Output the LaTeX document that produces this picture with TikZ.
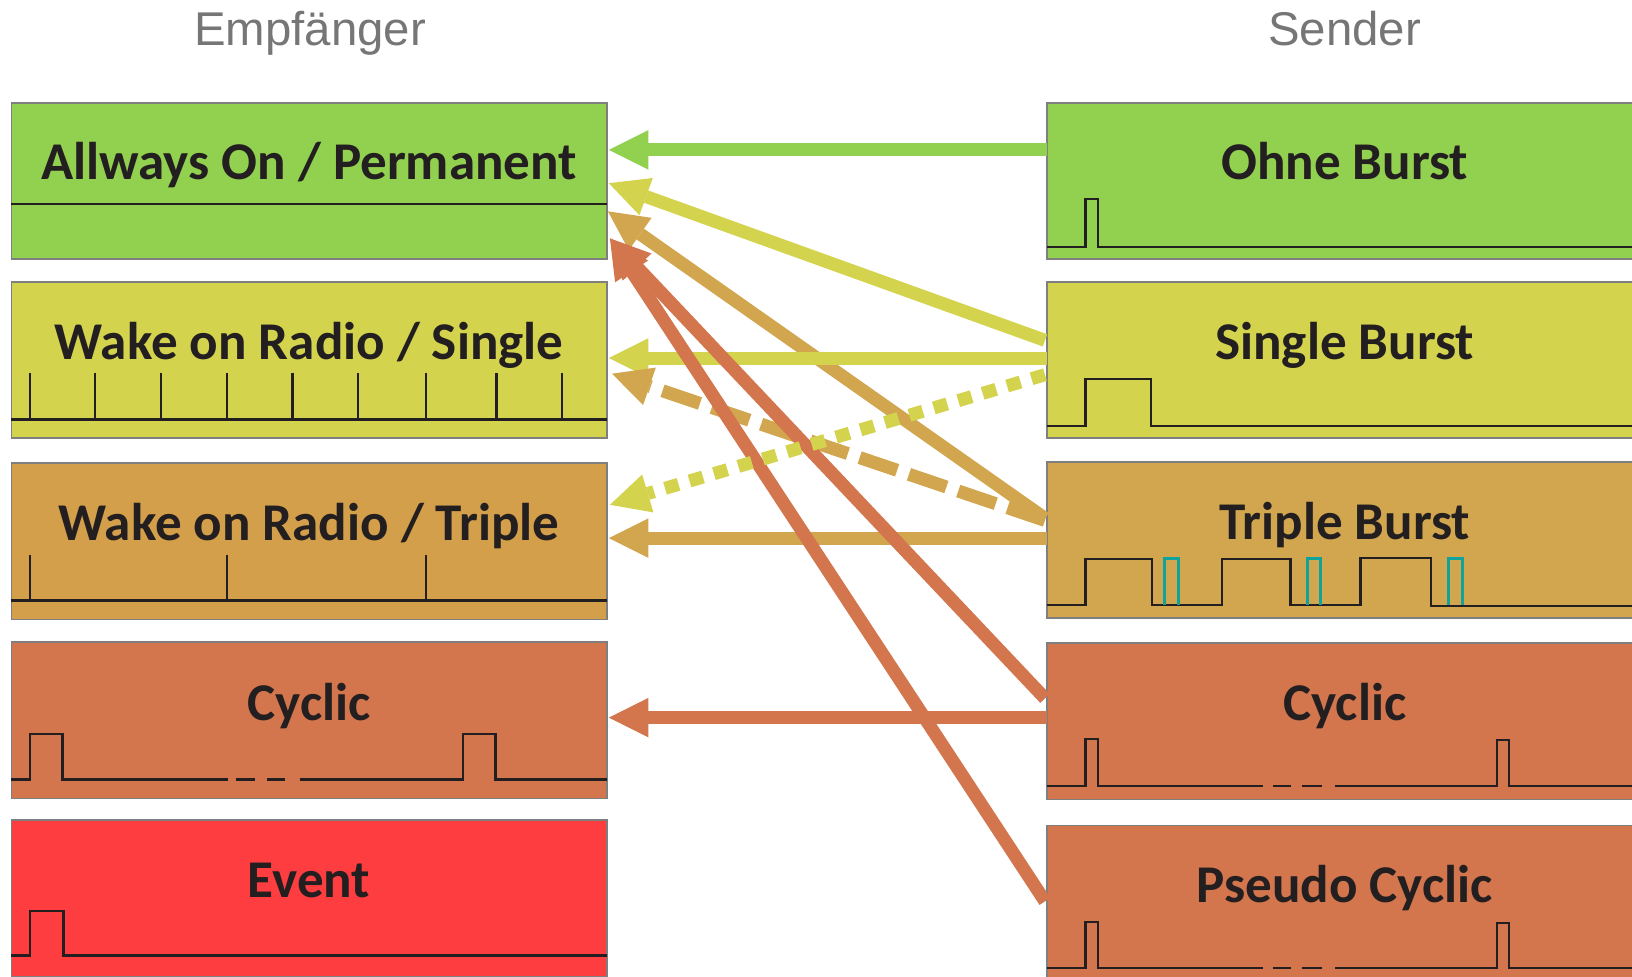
\documentclass[tikz,border=0pt]{standalone}
\usepackage{fontspec}
\setmainfont{Liberation Sans}
\newfontfamily\boxfont{Carlito}
\usetikzlibrary{arrows.meta}
\definecolor{cgreen}{HTML}{92D050}
\definecolor{cyellow}{HTML}{D3D34E}
\definecolor{ctan}{HTML}{D49F4A}
\definecolor{ctanR}{HTML}{D2A64F}
\definecolor{corange}{HTML}{D3764E}
\definecolor{cred}{HTML}{FE3D40}
\definecolor{cteal}{HTML}{0FA39B}
\definecolor{cink}{HTML}{231F20}
\definecolor{cborder}{HTML}{7F7F7F}
\definecolor{chead}{HTML}{767676}
\tikzset{
  box/.style={rectangle, draw=cborder, line width=1.5pt, minimum width=572pt, minimum height=150pt, inner sep=0pt, outer sep=0pt},
  ttl/.style={anchor=base, inner sep=0pt, text=cink, font=\boxfont\bfseries\fontsize{51}{60}\selectfont},
  hdr/.style={anchor=base, inner sep=0pt, text=chead, font=\fontsize{45.5}{54}\selectfont},
  sig/.style={draw=cink, line width=2.2pt, line cap=butt, line join=miter},
  tsig/.style={draw=cteal, line width=2.8pt, line cap=butt, line join=miter},
  arr/.style={line width=12.5pt, line cap=butt, -{Triangle[length=38pt,width=38pt,line width=0pt]}},
  dotline/.style={dash pattern=on 13.5pt off 11pt},
  dashline/.style={dash pattern=on 38pt off 12pt}
}
\begin{document}
\begin{tikzpicture}[x=1pt,y=-1pt]
\useasboundingbox (0,0) rectangle (1568,938);
% headers
\node[hdr] (hL) at (298,44) {Empfänger};
\node[hdr] (hR) at (1292,44) {Sender};
% left boxes
\node[box, fill=cgreen]  (L1) at (297,174) {};
\node[box, fill=cyellow] (L2) at (297,346) {};
\node[box, fill=ctan]    (L3) at (297,520) {};
\node[box, fill=corange] (L4) at (297,692) {};
\node[box, fill=cred]    (L5) at (297,863) {};
% right boxes
\node[box, fill=cgreen]  (R1) at (1292,174) {};
\node[box, fill=cyellow] (R2) at (1292,346) {};
\node[box, fill=ctanR]   (R3) at (1292,519) {};
\node[box, fill=corange] (R4) at (1292,693) {};
\node[box, fill=corange] (R5) at (1292,868) {};
% titles
\node[ttl] (tL1) at (297,172) {Allways On / Permanent};
\node[ttl] (tL2) at (297,345) {Wake on Radio / Single};
\node[ttl] (tL3) at (297,519) {Wake on Radio / Triple};
\node[ttl] (tL4) at (297,692) {Cyclic};
\node[ttl] (tL5) at (297,862) {Event};
\node[ttl] (tR1) at (1292,172) {Ohne Burst};
\node[ttl] (tR2) at (1292,345) {Single Burst};
\node[ttl] (tR3) at (1292,518) {Triple Burst};
\node[ttl] (tR4) at (1292,692) {Cyclic};
\node[ttl] (tR5) at (1292,867) {Pseudo Cyclic};
% left signals
\draw[sig] (11,196) -- (583,196);
\draw[sig] (11,403) -- (583,403);
\foreach \x in {29,91,155,218,281,344,409,477,540} \draw[sig] (\x,358) -- (\x,403);
\draw[sig] (11,577) -- (583,577);
\foreach \x in {29,218,409} \draw[sig] (\x,533) -- (\x,577);
\draw[sig] (11,749) -- (29,749) -- (29,705) -- (60,705) -- (60,749) -- (219,749);
\draw[sig] (227,749) -- (245,749);
\draw[sig] (257,749) -- (274,749);
\draw[sig] (288,749) -- (445,749) -- (445,705) -- (476,705) -- (476,749) -- (583,749);
\draw[sig] (11,918) -- (29,918) -- (29,875) -- (61,875) -- (61,918) -- (583,918);
% right signals
\draw[sig] (1006,237) -- (1043,237) -- (1043,191) -- (1055,191) -- (1055,237) -- (1577,237);
\draw[sig] (1006,409) -- (1043,409) -- (1043,364) -- (1106,364) -- (1106,409) -- (1577,409);
\draw[sig] (1006,581) -- (1043,581) -- (1043,537) -- (1107,537) -- (1107,581) -- (1174,581) -- (1174,537) -- (1240,537) -- (1240,581) -- (1307,581) -- (1307,536) -- (1375,536) -- (1375,582) -- (1577,582);
\foreach \x in {1119,1256,1392} \draw[tsig] (\x,581) -- (\x,537) -- (\x+13,537) -- (\x+13,581);
\draw[sig] (1006,755) -- (1043,755) -- (1043,710) -- (1055,710) -- (1055,755) -- (1213,755);
\draw[sig] (1223,755) -- (1240,755);
\draw[sig] (1251,755) -- (1270,755);
\draw[sig] (1283,755) -- (1438,755) -- (1438,711) -- (1450,711) -- (1450,755) -- (1577,755);
\draw[sig] (1006,930) -- (1043,930) -- (1043,886) -- (1055,886) -- (1055,930) -- (1213,930);
\draw[sig] (1223,930) -- (1240,930);
\draw[sig] (1251,930) -- (1270,930);
\draw[sig] (1283,930) -- (1438,930) -- (1438,887) -- (1450,887) -- (1450,930) -- (1577,930);
% arrows
\draw[arr, ctanR] ([xshift=-2pt,yshift=21pt]R3.west) -- ([xshift=1pt,yshift=-29pt]L1.east);
\draw[arr, cyellow] ([xshift=-2pt,yshift=19pt]R2.west) -- ([xshift=2pt,yshift=-2pt]L1.east);
\draw[arr, cgreen] ([yshift=30pt]R1.west) -- ([xshift=2pt,yshift=30pt]L1.east);
\draw[arr, cyellow] ([yshift=2pt]R2.west) -- ([xshift=2pt,yshift=2pt]L2.east);
\draw[arr, ctanR] ([yshift=2pt]R3.west) -- ([xshift=2pt,yshift=3pt]L3.east);
\draw[arr, corange] ([yshift=3.5pt]R4.west) -- ([xshift=2pt,yshift=2.5pt]L4.east);
\draw[arr, ctanR, dashline] ([xshift=-2pt,yshift=19pt]R3.west) -- ([xshift=5pt,yshift=-13pt]L2.east);
\draw[arr, corange] ([xshift=-2pt,yshift=22pt]R4.west) -- ([xshift=3pt,yshift=-55pt]L1.east);
\draw[arr, corange] ([xshift=-2pt,yshift=2pt]R5.west) -- ([xshift=3pt,yshift=-55pt]L1.east);
\draw[arr, cyellow, dotline] ([xshift=-2pt,yshift=-14pt]R2.west) -- ([xshift=3pt,yshift=35pt]L3.east);
\end{tikzpicture}
\end{document}
